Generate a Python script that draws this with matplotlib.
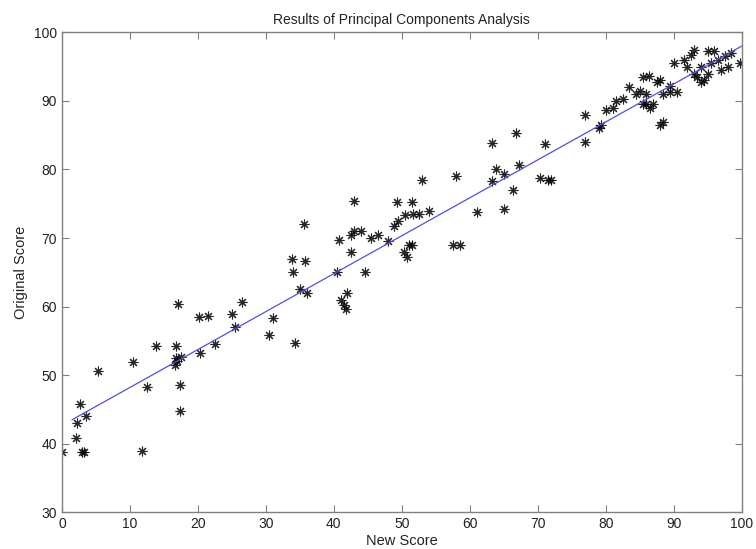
import numpy as np
import matplotlib
matplotlib.use('Agg')
import matplotlib.pyplot as plt

plt.rcParams['font.family'] = ['Liberation Sans', 'DejaVu Sans']

# scores
new_score = [0, 2, 2.2, 2.7, 3.5, 3.0, 3.3, 5.3, 10.5, 11.7, 12.5, 13.8, 16.8, 16.8,
             16.6, 16.9, 17.5, 17.4, 17.4, 17.0, 20.3, 22.5, 20.2, 21.5, 25.0, 25.5,
             26.5, 30.5, 31.0, 34.3, 33.8, 34.0, 35.0, 36.0, 35.6, 35.8, 40.5, 40.8,
             41.0, 41.5, 41.8, 42.0, 42.5, 42.5, 43.0, 44.0, 43.0, 44.6, 45.5, 46.5,
             48.0, 49.5, 48.8, 49.3, 50.3, 50.7, 51.0, 51.5, 50.5, 51.6, 51.5, 53.0,
             52.5, 54.0, 57.5, 58.5, 58.0, 61.0, 63.3, 63.3, 63.8, 65.0, 65.0, 66.3,
             66.8, 67.3, 70.3, 71.0, 71.5, 72.0, 77.0, 77.0, 79.0, 79.3, 80.0, 81.0,
             81.5, 82.5, 83.5, 84.5, 85.0, 86.0, 85.5, 86.0, 86.3, 85.5, 87.5, 88.0,
             86.5, 87.0, 88.0, 88.5, 88.5, 89.5, 89.5, 90.5, 90.0, 91.5, 92.0, 92.5,
             93.0, 93.0, 93.5, 94.0, 94.5, 95.0, 96.0, 95.5, 96.5, 97.0, 98.0, 98.5,
             97.5, 99.8, 94.0, 95.0]
orig_score = [38.8, 40.8, 43.0, 45.8, 44.0, 38.8, 38.8, 50.6, 51.9, 38.9, 48.3, 54.2,
              54.3, 52.5, 51.5, 52.0, 52.6, 48.5, 44.7, 60.4, 53.2, 54.6, 58.5, 58.6,
              58.9, 57.0, 60.7, 55.9, 58.3, 54.7, 67.0, 65.0, 62.6, 62.0, 72.0, 66.7,
              65.0, 69.7, 61.0, 60.3, 59.7, 62.0, 68.0, 70.5, 71.0, 71.0, 75.4, 65.0,
              70.0, 70.5, 69.5, 72.5, 71.8, 75.2, 68.0, 67.2, 69.0, 69.0, 73.3, 73.5,
              75.3, 78.5, 73.5, 74.0, 69.0, 69.0, 79.0, 73.8, 78.3, 83.8, 80.0, 79.3,
              74.2, 77.0, 85.3, 80.6, 78.8, 83.7, 78.5, 78.5, 84.0, 88.0, 86.0, 86.5,
              88.7, 89.0, 90.0, 90.3, 92.0, 91.0, 91.5, 91.0, 89.5, 89.5, 93.7, 93.5,
              92.7, 93.0, 89.0, 89.5, 86.5, 87.0, 91.0, 92.2, 91.3, 91.3, 95.5, 96.0,
              95.0, 96.7, 97.5, 94.0, 93.5, 92.8, 93.0, 97.3, 97.3, 95.5, 96.0, 94.5,
              95.0, 97.0, 96.5, 95.5, 95.0, 94.0]

# fitted line end points
fit_x = [1.5, 100]
fit_y = [43.5, 98.0]

fig = plt.figure(figsize=(7.56, 5.49), dpi=100)
ax = fig.add_axes([0.082, 0.067, 0.899, 0.874])

ax.plot(new_score, orig_score, linestyle='none', marker=(8, 2, 0), markersize=7,
        markeredgewidth=0.8, color='black', alpha=0.85)
ax.plot(fit_x, fit_y, color='#5050e0', linewidth=0.9)

ax.set_xlim(0, 100)
ax.set_ylim(30, 100)
ax.set_xticks(np.arange(0, 101, 10))
ax.set_yticks(np.arange(30, 101, 10))
ax.tick_params(direction='in', top=True, right=True, length=5, width=0.8,
               colors='#808080', labelcolor='#222222', labelsize=10)
for s in ax.spines.values():
    s.set_color('#808080')
    s.set_linewidth(1.0)

ax.set_title('Results of Principal Components Analysis', fontsize=10, color='#222222')
ax.set_xlabel('New Score', fontsize=10.5, color='#222222', labelpad=2)
ax.set_ylabel('Original Score', fontsize=10.5, color='#222222')

fig.savefig('out.png', dpi=100)
